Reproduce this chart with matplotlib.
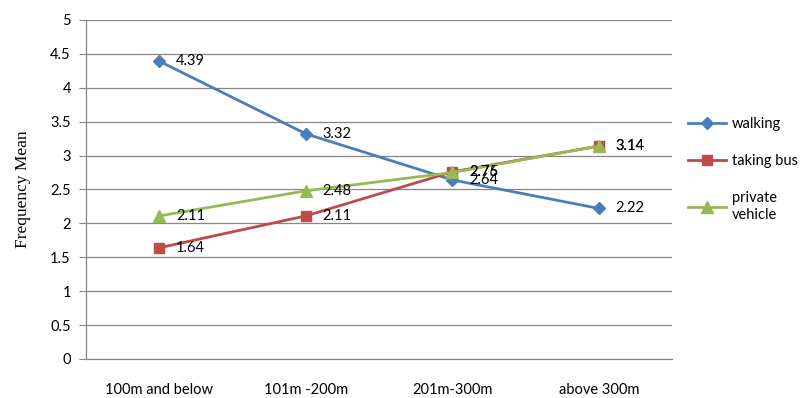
import matplotlib
matplotlib.use("Agg")
import matplotlib.pyplot as plt

distances = ["100m and below", "101m -200m", "201m-300m", "above 300m"]
walking = [4.39, 3.32, 2.64, 2.22]
taking_bus = [1.64, 2.11, 2.76, 3.14]
private_vehicle = [2.11, 2.48, 2.75, 3.14]

series = [
    ("walking", walking, "#4A7EBB", "D", 6.5),
    ("taking bus", taking_bus, "#BE4B48", "s", 7.5),
    ("private\nvehicle", private_vehicle, "#98B954", "^", 8.5),
]

plt.rcParams["font.family"] = ["Lato", "DejaVu Sans"]

fig = plt.figure(figsize=(8.05, 3.98), dpi=100)
ax = fig.add_axes([0.107, 0.098, 0.728, 0.852])

x = list(range(len(distances)))
for name, vals, color, marker, ms in series:
    ax.plot(x, vals, color=color, linewidth=2.0, marker=marker, markersize=ms,
            label=name, zorder=3)

# value labels to the right of every point
for name, vals, color, marker, ms in series:
    for xi, v in zip(x, vals):
        ax.annotate(f"{v:.2f}", (xi, v), textcoords="offset points", xytext=(12, 0),
                    ha="left", va="center", fontsize=10.5, color="black", zorder=4)

ax.set_xlim(-0.5, 3.5)
ax.set_ylim(0, 5)
ax.set_yticks([i * 0.5 for i in range(11)])
ax.set_yticklabels(["0", "0.5", "1", "1.5", "2", "2.5", "3", "3.5", "4", "4.5", "5"])
ax.set_xticks(x)
ax.set_xticklabels(distances)
ax.tick_params(axis="x", length=0, pad=17, labelsize=10.5)
ax.tick_params(axis="y", length=5, color="#868686", pad=6, labelsize=10.5)
ax.grid(axis="y", color="#868686", linewidth=0.9, zorder=0)

for side in ["top", "right"]:
    ax.spines[side].set_visible(False)
for side in ["left", "bottom"]:
    ax.spines[side].set_color("#868686")
    ax.spines[side].set_linewidth(0.9)

ax.set_ylabel("Frequency Mean", family="Liberation Serif", fontsize=12.5, labelpad=14)

ax.legend(loc="center left", bbox_to_anchor=(1.005, 0.56), frameon=False, fontsize=10.5,
          handlelength=2.6, labelspacing=1.6, handletextpad=0.4)

fig.savefig("out.png", dpi=100)
